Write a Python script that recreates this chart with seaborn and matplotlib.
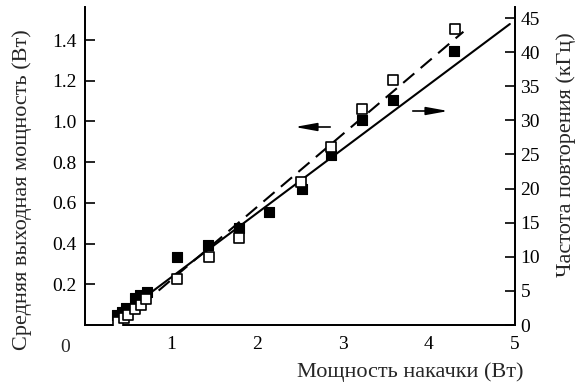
import matplotlib
matplotlib.use("Agg")
import matplotlib.pyplot as plt
import seaborn as sns
import pandas as pd

sns.set_theme(style="white")
plt.rcParams["font.family"] = ["Liberation Serif", "DejaVu Serif"]

# Pump power (W) and average output power (W), filled squares
pump_power = [0.37, 0.43, 0.48, 0.58, 0.64, 0.72, 1.07, 1.43, 1.79, 2.14, 2.52, 2.86, 3.22, 3.58, 4.29]
output_power = [0.049, 0.065, 0.082, 0.131, 0.147, 0.164, 0.333, 0.393, 0.478, 0.553, 0.668, 0.835, 1.005, 1.106, 1.345]

# Pump power (W) and repetition rate (kHz), open squares
pump_freq = [0.38, 0.45, 0.50, 0.58, 0.65, 0.71, 1.07, 1.44, 1.79, 2.51, 2.86, 3.22, 3.58, 4.30]
rep_rate = [0.5, 1.0, 1.5, 2.3, 2.9, 3.8, 6.7, 9.9, 12.8, 21.0, 26.1, 31.6, 35.9, 43.4]

# Linear fits (end points)
fit_power_x = [0.35, 4.94]
fit_power_y = [0.028, 1.479]
fit_freq_x = [0.45, 4.40]
fit_freq_y = [0.7, 43.0]

power_ticks = [0.2, 0.4, 0.6, 0.8, 1.0, 1.2, 1.4]
freq_ticks = [0, 5, 10, 15, 20, 25, 30, 35, 40, 45]
x_ticks = [1, 2, 3, 4, 5]

df_p = pd.DataFrame({"x": pump_power, "y": output_power})
df_f = pd.DataFrame({"x": pump_freq, "y": rep_rate})
df_fp = pd.DataFrame({"x": fit_power_x, "y": fit_power_y})
df_ff = pd.DataFrame({"x": fit_freq_x, "y": fit_freq_y})

fig = plt.figure(figsize=(5.84, 3.85), dpi=100)
ax = fig.add_axes([85 / 584, 60 / 385, 430 / 584, 318 / 385])
ax2 = ax.twinx()

sns.lineplot(data=df_fp, x="x", y="y", ax=ax, color="black", lw=1.5)
sns.scatterplot(data=df_p, x="x", y="y", ax=ax, marker="s", s=55,
                color="black", edgecolor="black", linewidth=0.8, zorder=3)

sns.lineplot(data=df_ff, x="x", y="y", ax=ax2, color="black", lw=1.5)
ax2.lines[-1].set_dashes((7, 4))
sns.scatterplot(data=df_f, x="x", y="y", ax=ax2, marker="s", s=55,
                facecolor="white", edgecolor="black", linewidth=1.2, zorder=3)

ax.set_xlim(0, 5)
ax.set_ylim(0, 318 / 203.5)
ax2.set_ylim(0, 318 / 34.1 * 5)

ax.set_xticks(x_ticks)
ax.set_xticklabels([str(v) for v in x_ticks])
ax.set_yticks(power_ticks)
ax.set_yticklabels([f"{v:.1f}" for v in power_ticks])
ax2.set_yticks(freq_ticks)
ax2.set_yticklabels([str(v) for v in freq_ticks])

for a in (ax, ax2):
    a.spines["top"].set_visible(False)
    for s in a.spines.values():
        s.set_color("black")
        s.set_linewidth(1.3)
    a.tick_params(direction="in", length=7, width=1.2, colors="black",
                  labelsize=14)
    a.set_xlabel("")
    a.set_ylabel("")
ax.tick_params(axis="x", pad=8)
ax.tick_params(axis="y", pad=6, right=False)
ax2.tick_params(axis="y", pad=4, left=False)

fig.text(65 / 584, 1 - 348 / 385, "0", fontsize=14, ha="center", va="center")
fig.text(410 / 584, 1 - 372 / 385, "Мощность накачки (Вт)", fontsize=16,
         ha="center", va="center")
fig.text(22 / 584, 1 - 190 / 385, "Средняя выходная мощность (Вт)", fontsize=16,
         ha="center", va="center", rotation=90)
fig.text(566 / 584, 1 - 155 / 385, "Частота повторения (кГц)", fontsize=16,
         ha="center", va="center", rotation=90)

# Arrows pointing to the corresponding axes
arrow_style = dict(arrowstyle="-|>,head_length=1.1,head_width=0.2",
                   color="black", lw=1.2)
ax.annotate("", xy=(292, 385 - 127), xytext=(333, 385 - 127),
            xycoords="figure pixels", textcoords="figure pixels",
            arrowprops=arrow_style)
ax.annotate("", xy=(451, 385 - 111), xytext=(410, 385 - 111),
            xycoords="figure pixels", textcoords="figure pixels",
            arrowprops=arrow_style)

fig.savefig("out.png", dpi=100)
